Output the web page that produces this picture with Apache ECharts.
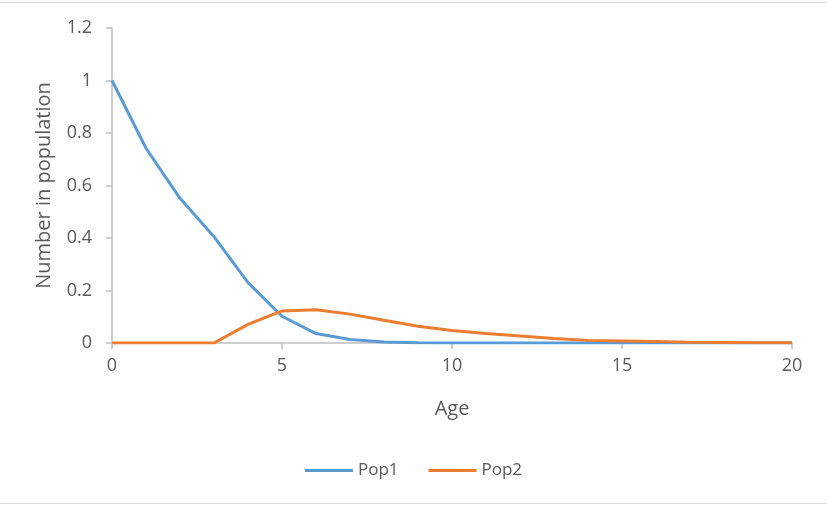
<!DOCTYPE html>
<html>
<head>
<meta charset="utf-8">
<script src="https://cdn.jsdelivr.net/npm/echarts@6/dist/echarts.min.js"></script>
<style>html,body{margin:0;padding:0;background:#fff}#c{width:827px;height:505px}</style>
</head>
<body>
<div id="c"></div>
<script>
var ages = [0,1,2,3,4,5,6,7,8,9,10,11,12,13,14,15,16,17,18,19,20];
var pop1 = [1.0,0.742,0.551,0.405,0.230,0.102,0.036,0.013,0.004,0.001,0,0,0,0,0,0,0,0,0,0,0];
var pop2 = [0,0,0,0,0.071,0.122,0.127,0.110,0.087,0.064,0.048,0.036,0.027,0.017,0.010,0.008,0.006,0.003,0.002,0.001,0.001];
var seriesNames = ['Pop1','Pop2'];
var xTicks = [0,5,10,15,20];
var yTicks = [0,0.2,0.4,0.6,0.8,1,1.2];

function pairs(v){ return ages.map(function(a,i){ return [a, v[i]]; }); }
var font = '"Open Sans", Lato, sans-serif';
var chart = echarts.init(document.getElementById('c'), null, {renderer:'canvas'});
chart.setOption({
  animation:false,
  backgroundColor:'#fff',
  textStyle:{fontFamily:font},
  graphic:[
    {type:'line', shape:{x1:0,y1:2.5,x2:827,y2:2.5}, style:{stroke:'#D9D9D9',lineWidth:1}},
    {type:'line', shape:{x1:0,y1:503.5,x2:827,y2:503.5}, style:{stroke:'#D9D9D9',lineWidth:1}}
  ],
  grid:{left:112,right:35,top:28,bottom:162,containLabel:false},
  legend:{
    data:seriesNames, top:457, left:'center', itemWidth:48, itemHeight:3, itemGap:30,
    icon:'rect',
    textStyle:{color:'#595959',fontSize:17,fontFamily:font}
  },
  xAxis:{
    type:'value', min:0, max:20, interval:5,
    name:'Age', nameLocation:'middle', nameGap:56,
    nameTextStyle:{color:'#595959',fontSize:20,fontFamily:font},
    axisLine:{show:true,lineStyle:{color:'#BFBFBF',width:1.5}},
    axisTick:{show:true,length:6,lineStyle:{color:'#BFBFBF',width:1.5}},
    axisLabel:{color:'#595959',fontSize:18,margin:14,fontFamily:font},
    splitLine:{show:false}
  },
  yAxis:{
    type:'value', min:0, max:1.2, interval:0.2,
    name:'Number in population', nameLocation:'middle', nameGap:58, nameRotate:90,
    nameTextStyle:{color:'#595959',fontSize:20,fontFamily:font},
    axisLine:{show:true,lineStyle:{color:'#BFBFBF',width:1.5}},
    axisTick:{show:true,length:6,lineStyle:{color:'#BFBFBF',width:1.5}},
    axisLabel:{color:'#595959',fontSize:18,margin:20,fontFamily:font,
      formatter:function(v){ return String(Math.round(v*10)/10); }},
    splitLine:{show:false}
  },
  series:[
    {name:seriesNames[0], type:'line', data:pairs(pop1), showSymbol:false, symbol:'none',
     lineStyle:{color:'#5B9BD5',width:3}, itemStyle:{color:'#5B9BD5'}, z:2},
    {name:seriesNames[1], type:'line', data:pairs(pop2), showSymbol:false, symbol:'none',
     lineStyle:{color:'#ED7D31',width:3}, itemStyle:{color:'#ED7D31'}, z:3}
  ]
});
</script>
</body>
</html>
